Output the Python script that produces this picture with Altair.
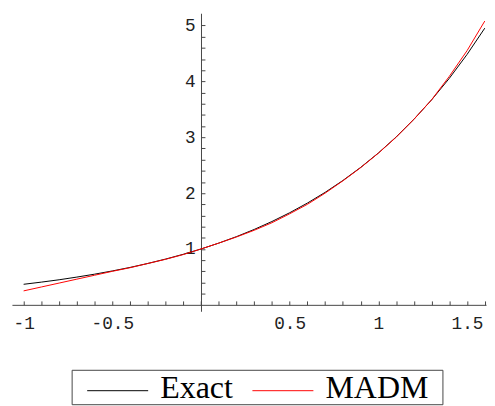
import altair as alt
import pandas as pd

# ---- data ----
x_vals = [-1.0, -0.9, -0.8, -0.7, -0.6, -0.5, -0.4, -0.3, -0.2, -0.1, 0.0,
          0.1, 0.2, 0.3, 0.4, 0.5, 0.6, 0.7, 0.8, 0.9, 1.0,
          1.1, 1.2, 1.3, 1.4, 1.5, 1.6]
exact_vals = [0.368, 0.407, 0.449, 0.497, 0.549, 0.607, 0.670, 0.741, 0.819, 0.905, 1.000,
              1.105, 1.221, 1.350, 1.492, 1.649, 1.822, 2.014, 2.226, 2.460, 2.718,
              3.004, 3.320, 3.669, 4.055, 4.482, 4.953]
madm_vals = [0.25, 0.32, 0.39, 0.46, 0.53, 0.60, 0.665, 0.74, 0.815, 0.90, 1.00,
             1.105, 1.215, 1.335, 1.47, 1.63, 1.80, 2.00, 2.22, 2.455, 2.715,
             3.00, 3.32, 3.67, 4.09, 4.55, 5.08]
series_names = ["Exact", "MADM"]
series_colors = ["#000000", "#ff0000"]

x_major = [-1, -0.5, 0.5, 1, 1.5]
y_major = [1, 2, 3, 4, 5]
x_ticks = [round(-1.0 + 0.1 * i, 1) for i in range(27)]
y_ticks = [round(0.2 * i, 1) for i in range(1, 26)]

x_dom = [-1.066, 1.607]
y_dom = [-0.115, 5.22]
W, H = 482, 303

rows = []
for name, vals in zip(series_names, [exact_vals, madm_vals]):
    for xv, yv in zip(x_vals, vals):
        rows.append({"x": xv, "y": yv, "series": name})
df = pd.DataFrame(rows)

# axis placement (axes cross at the origin)
px0 = (0 - x_dom[0]) / (x_dom[1] - x_dom[0]) * W
py0 = (y_dom[1] - 0) / (y_dom[1] - y_dom[0]) * H

axis_style = dict(
    tickSize=4, tickColor="#444", domainColor="#444", domainWidth=1, tickWidth=1,
    labelFont="Liberation Mono", labelFontSize=18, labelColor="#222",
    grid=False, title=None, labelOverlap=False, labelFlush=False,
)

x_axis = alt.Axis(
    orient="top", offset=-py0, values=x_ticks,
    labelExpr="indexof(%s, datum.value) >= 0 ? '' + datum.value : ''" % str(x_major),
    labelBaseline="top", labelPadding=-14, labelAngle=0, **axis_style,
)
y_axis = alt.Axis(
    orient="right", offset=px0 - W, values=y_ticks,
    labelExpr="indexof(%s, datum.value) >= 0 ? '' + datum.value : ''" % str(y_major),
    labelAlign="right", labelBaseline="middle", labelPadding=-10, **axis_style,
)

legend = alt.Legend(
    orient="none", legendX=60.7, legendY=362.5, direction="horizontal",
    title="M", titleOrient="right", titleOpacity=0, titleFontSize=10, titlePadding=5,
    padding=0, strokeColor="#444", fillColor="white",
    symbolType="M-0.126,0.171H3.417", symbolSize=1225, symbolStrokeWidth=1,
    labelFont="Liberation Serif", labelFontSize=32.5, labelColor="#000",
    labelOffset=54, columnPadding=4,
)

chart = alt.Chart(df).mark_line(strokeWidth=1, clip=True).encode(
    x=alt.X("x:Q", scale=alt.Scale(domain=x_dom, nice=False, zero=False), axis=x_axis),
    y=alt.Y("y:Q", scale=alt.Scale(domain=y_dom, nice=False, zero=False), axis=y_axis),
    color=alt.Color("series:N", scale=alt.Scale(domain=series_names, range=series_colors),
                    legend=legend),
).properties(
    width=W, height=H,
    autosize=alt.AutoSizeParams(type="none"),
    padding={"left": 4, "top": 2, "right": 1, "bottom": 95},
    background="white",
).configure_view(stroke=None)

chart.save("out.html", embed_options={"renderer": "svg", "actions": False})
